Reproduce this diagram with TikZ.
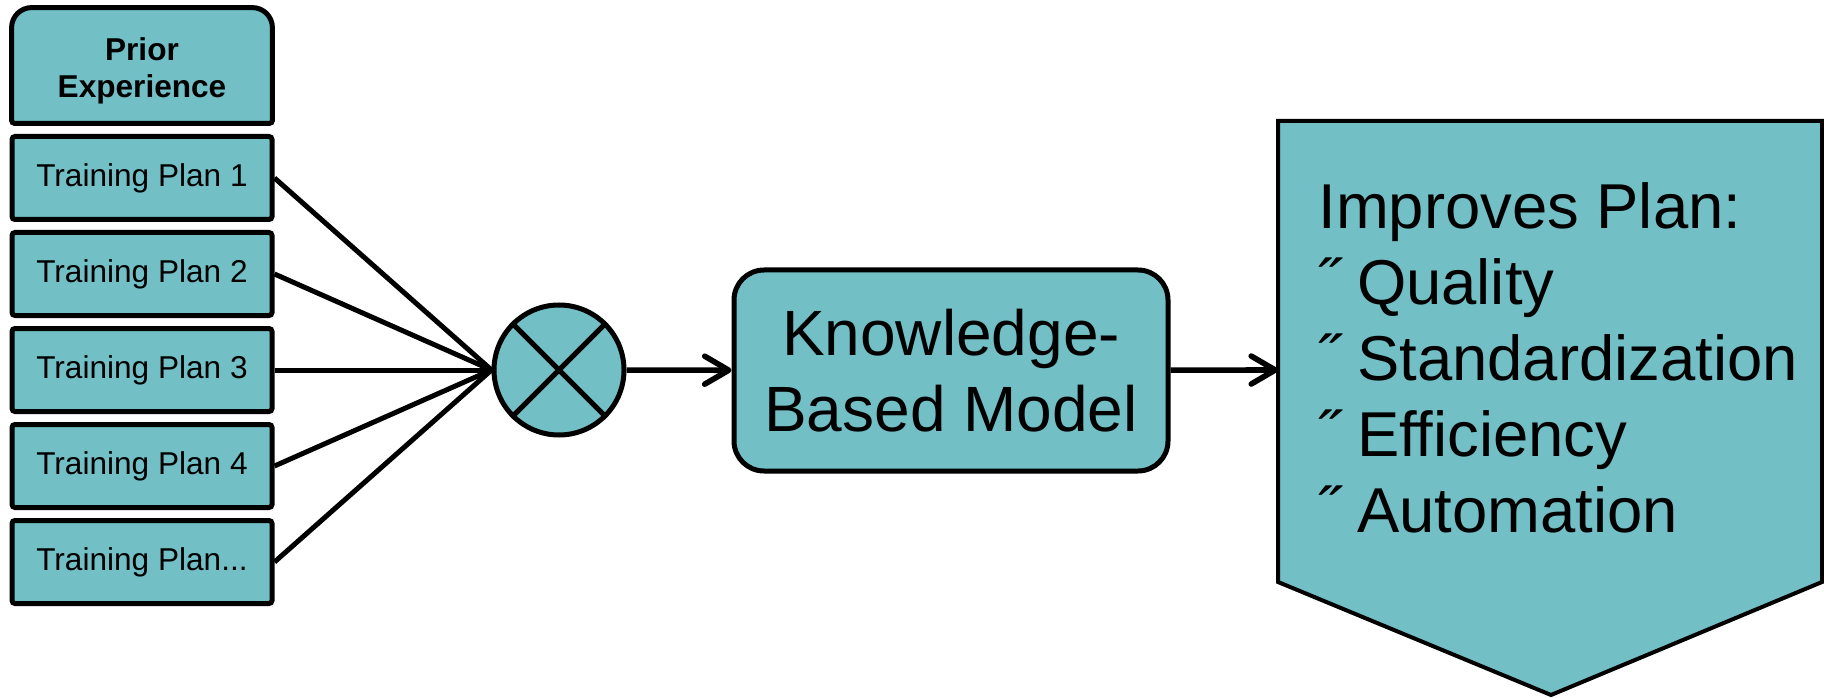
\documentclass[tikz,border=0pt]{standalone}
\usepackage{fontspec}
\setmainfont{Liberation Sans}
\usetikzlibrary{arrows.meta,backgrounds}
\definecolor{planteal}{RGB}{114,191,197}

\begin{document}
\begin{tikzpicture}
      [ x=0.5pt, y=0.5pt
      , plan/.style={draw, fill=planteal, line width=2.5pt, rounded corners=1.5pt,
          minimum width=130pt, minimum height=41.5pt, inner sep=0pt,
          font=\fontsize{15.8}{18.6}\selectfont}
      , prior/.style={minimum width=130pt, minimum height=57.5pt, inner sep=0pt,
          align=center, font=\bfseries\fontsize{15.8}{18.6}\selectfont}
      , merge/.style={draw, fill=planteal, circle, line width=2.5pt, minimum size=65pt, inner sep=0pt}
      , model/.style={draw, fill=planteal, line width=2.5pt, rounded corners=15pt,
          minimum width=217pt, minimum height=100.5pt, inner sep=0pt, align=center,
          font=\fontsize{32}{38}\selectfont}
      , link/.style={black, draw, line width=2.5pt}
      , flow/.style={black, draw, line width=2.8pt, -{Straight Barb[length=12pt, width=14pt, round]}}
      ]
    \useasboundingbox (0,0) rectangle (1824,697);

    \node[prior] (PE) at (142,626.5) {Prior\\Experience};
    \begin{pgfonlayer}{background}
      \filldraw[fill=planteal, line width=2.5pt]
      ([yshift=2.5pt]PE.south west) [rounded corners=10pt] -- ([yshift=2.5pt]PE.north west)
      -- ([yshift=2.5pt]PE.north east)
      [rounded corners=1.5pt] -- ([yshift=2.5pt]PE.south east) -- cycle;
    \end{pgfonlayer}

    \node[plan] (TP1) at (142,519) {Training Plan 1};
    \node[plan] (TP2) at (142,423) {Training Plan 2};
    \node[plan] (TP3) at (142,327) {Training Plan 3};
    \node[plan] (TP4) at (142,231) {Training Plan 4};
    \node[plan] (TP5) at (142,135) {Training Plan...};

    \node[merge] (X) at (559,327) {};
    \draw[link]
    (X.north west) -- (X.south east)
    (X.north east) -- (X.south west);

    \draw[link]
    (TP1.east) edge (X.west)
    (TP2.east) edge (X.west)
    (TP3.east) edge (X.west)
    (TP4.east) edge (X.west)
    (TP5.east) edge (X.west);

    \node[model] (KBM) at (951,326.5) {Knowledge-\\Based Model};

    \draw[fill=planteal, line width=2pt]
    (1278,576) -- (1822,576) -- (1822,115) -- (1551,2) -- (1278,115) -- cycle;
    \coordinate (IP) at (1278,327);
    \node[anchor=north west, inner sep=0pt, align=left,
          font=\fontsize{31.7}{38}\selectfont] (IPT) at (1318,515)
    {Improves Plan:\\˝ Quality\\˝ Standardization\\˝ Efficiency\\˝ Automation};

    \draw[flow]
    (X) edge (KBM)
    (KBM) edge (IP);

  \end{tikzpicture}
\end{document}
